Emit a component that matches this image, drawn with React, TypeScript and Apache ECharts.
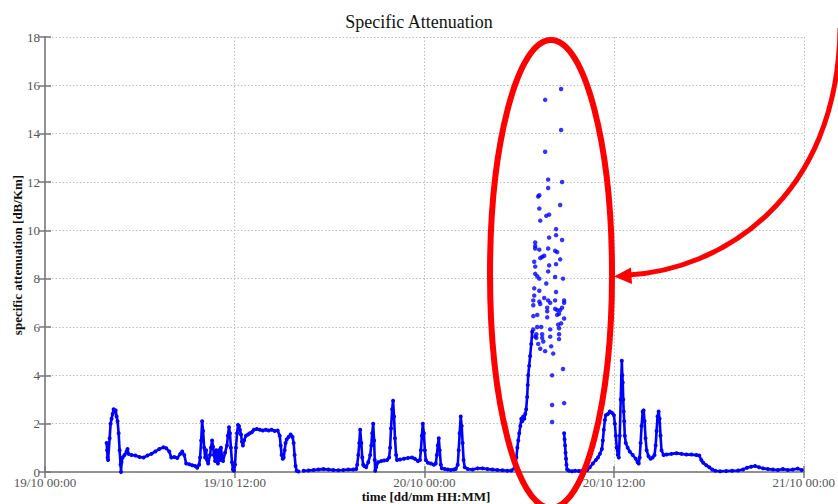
import React, { useEffect, useRef } from "react";
import * as echarts from "echarts";

// Hours elapsed since 19/10 00:00, paired with specific attenuation in dB/Km.
const tickLabels = ["19/10 00:00", "19/10 12:00", "20/10 00:00", "20/10 12:00", "21/10 00:00"];

// Showers during 19/10
const rainDay19: [number, number][] = [
  [3.9, 1.2], [3.93, 0.9], [3.96, 0.6], [3.99, 0.5], [4.09, 1.4], [4.15, 2.0], [4.21, 2.2], [4.28, 2.4],
  [4.34, 2.6], [4.4, 2.5], [4.47, 2.55], [4.53, 2.3], [4.59, 2.1], [4.66, 1.6], [4.72, 0.9], [4.78, 0.3],
  [4.81, 0.0], [4.84, 0.4], [4.91, 0.6], [5.03, 0.7], [5.16, 0.85], [5.22, 0.95], [5.28, 0.75], [5.47, 0.7],
  [5.72, 0.68], [5.98, 0.62], [6.23, 0.6], [6.48, 0.68], [6.73, 0.75], [6.98, 0.85], [7.23, 0.95], [7.49, 1.02],
  [7.67, 0.98], [7.86, 0.85], [7.99, 0.6], [8.18, 0.62], [8.37, 0.58], [8.56, 0.75], [8.68, 0.85], [8.81, 0.7],
  [8.93, 0.35], [9.12, 0.32], [9.31, 0.28], [9.5, 0.25], [9.63, 0.18], [9.75, 0.3], [9.81, 0.6], [9.88, 1.3],
  [9.94, 2.1], [10.0, 1.7], [10.07, 1.0], [10.13, 0.6], [10.19, 0.9], [10.25, 0.5], [10.32, 0.35], [10.44, 0.7],
  [10.5, 1.0], [10.57, 1.3], [10.63, 1.05], [10.69, 0.7], [10.76, 0.45], [10.82, 0.9], [10.88, 0.6], [10.94, 0.35],
  [11.0, 0.9], [11.07, 0.5], [11.13, 1.0], [11.2, 0.6], [11.26, 0.45], [11.39, 0.8], [11.51, 1.1], [11.57, 1.5],
  [11.64, 1.85], [11.7, 1.6], [11.76, 1.0], [11.83, 0.4], [11.89, 0.1], [11.95, 0.05], [12.02, 0.3], [12.08, 1.0],
  [12.15, 1.6], [12.21, 1.95], [12.27, 1.9], [12.33, 1.75], [12.4, 1.55], [12.46, 1.25], [12.52, 1.1], [12.59, 1.3],
  [12.71, 1.5], [12.84, 1.55], [12.96, 1.6], [13.09, 1.65], [13.21, 1.75], [13.4, 1.78], [13.59, 1.75], [13.78, 1.72],
  [13.97, 1.75], [14.15, 1.72], [14.34, 1.75], [14.53, 1.7], [14.72, 1.72], [14.85, 1.5], [14.91, 1.1], [14.97, 0.7],
  [15.04, 0.55], [15.1, 0.6], [15.16, 0.9], [15.22, 1.2], [15.29, 1.35], [15.41, 1.45], [15.54, 1.55], [15.66, 1.45],
  [15.73, 1.2], [15.79, 0.7], [15.85, 0.25], [15.92, 0.05], [16.04, 0.02],
];

// Evening of 19/10 through the early hours of 20/10
const nightShowers: [number, number][] = [
  [16.36, 0.05], [16.67, 0.06], [16.99, 0.08], [17.3, 0.1], [17.61, 0.12], [17.93, 0.1], [18.24, 0.08], [18.56, 0.07],
  [18.87, 0.08], [19.19, 0.1], [19.5, 0.1], [19.69, 0.12], [19.75, 0.3], [19.82, 0.7], [19.88, 1.2], [19.94, 1.75],
  [20.01, 1.2], [20.07, 0.6], [20.13, 0.3], [20.2, 0.25], [20.32, 0.2], [20.45, 0.4], [20.57, 0.7], [20.64, 1.1],
  [20.7, 1.6], [20.76, 2.0], [20.82, 1.3], [20.86, 0.5], [20.89, 0.05], [20.95, 0.2], [21.07, 0.4], [21.26, 0.45],
  [21.45, 0.48], [21.64, 0.5], [21.77, 0.6], [21.83, 1.0], [21.89, 1.8], [21.96, 2.6], [22.02, 2.95], [22.08, 2.3],
  [22.14, 1.4], [22.21, 0.7], [22.27, 0.5], [22.46, 0.52], [22.71, 0.55], [22.96, 0.58], [23.22, 0.6], [23.4, 0.55],
  [23.59, 0.45], [23.72, 0.5], [23.78, 0.9], [23.84, 1.5], [23.9, 2.0], [23.97, 1.6], [24.03, 0.9], [24.09, 0.5],
  [24.22, 0.38], [24.41, 0.35], [24.6, 0.3], [24.72, 0.35], [24.79, 0.7], [24.85, 1.1], [24.91, 1.4], [24.97, 0.9],
  [25.04, 0.3], [25.1, 0.15], [25.29, 0.12], [25.48, 0.1], [25.67, 0.08], [25.86, 0.1], [25.98, 0.12], [26.11, 0.3],
  [26.17, 0.9], [26.23, 1.6], [26.3, 2.3], [26.36, 1.9], [26.42, 1.2], [26.48, 0.5], [26.55, 0.2], [26.74, 0.12],
  [27.05, 0.1], [27.37, 0.15], [27.68, 0.15], [27.99, 0.12], [28.31, 0.1], [28.62, 0.08], [28.94, 0.07], [29.25, 0.05],
  [29.5, 0.06], [29.69, 0.15],
];

// Onset of the heavy rain event on the morning of 20/10
const stormOnset: [number, number][] = [
  [29.76, 0.35], [29.82, 0.6], [29.88, 1.0], [29.94, 1.3], [30.0, 1.6], [30.07, 1.9], [30.13, 2.2], [30.19, 2.1],
  [30.25, 2.3], [30.32, 2.2], [30.38, 2.4], [30.44, 2.6], [30.5, 3.1], [30.54, 3.6], [30.57, 4.0], [30.63, 4.4],
  [30.69, 4.8], [30.76, 5.3], [30.82, 5.8],
];

// Scattered samples at the storm peak
const stormPeak: [number, number][] = [
  [32.65, 15.85], [31.64, 15.4], [32.65, 14.15], [31.64, 13.25], [31.83, 12.1], [32.71, 12.0], [31.83, 11.75],
  [31.27, 11.45], [31.2, 11.4], [31.27, 10.9], [32.59, 11.05], [31.71, 10.6], [31.89, 10.65], [31.33, 10.4],
  [32.33, 10.05], [31.89, 9.7], [32.33, 9.8], [32.71, 9.6], [31.01, 9.5], [31.01, 9.35], [31.01, 9.25], [31.27, 9.2],
  [32.27, 9.15], [32.4, 9.1], [31.83, 9.25], [31.58, 8.95], [31.45, 8.9], [31.33, 8.85], [32.59, 8.8], [30.95, 8.7],
  [31.01, 8.5], [31.89, 8.55], [32.33, 8.6], [31.83, 8.3], [31.01, 8.2], [31.14, 8.1], [31.27, 8.0], [32.27, 8.07],
  [32.77, 8.0], [31.71, 7.8], [30.95, 7.6], [31.27, 7.5], [32.33, 7.45], [30.95, 7.3], [30.89, 7.1], [30.89, 6.9],
  [31.27, 7.05], [31.33, 6.95], [31.58, 7.2], [31.83, 7.1], [31.96, 7.0], [32.27, 7.1], [32.84, 7.1], [31.77, 6.8],
  [31.77, 6.65], [32.27, 6.75], [32.4, 6.7], [32.52, 6.55], [32.59, 6.7], [32.71, 6.8], [32.84, 7.0], [31.14, 6.5],
  [30.89, 6.45], [31.77, 6.4], [32.4, 6.5], [32.84, 6.35], [32.46, 6.1], [32.65, 6.15], [30.89, 5.9], [31.14, 6.0],
  [31.39, 6.0], [31.96, 5.9], [32.52, 5.95], [31.08, 5.7], [31.08, 5.55], [31.45, 5.7], [31.45, 5.55], [32.52, 5.7],
  [32.52, 5.5], [31.01, 5.6], [31.2, 5.3], [31.33, 5.1], [31.52, 5.4], [31.64, 5.0], [31.96, 5.6], [32.02, 5.2],
  [32.15, 4.9], [32.08, 4.0], [32.08, 2.77], [32.08, 2.07], [32.77, 4.26], [32.84, 2.85],
];

// Tail of the storm and the rest of 20/10
const afterStorm: [number, number][] = [
  [32.84, 1.6], [32.87, 1.35], [32.9, 1.1], [32.93, 0.8], [32.96, 0.55], [32.99, 0.3], [33.03, 0.1], [33.15, 0.05],
  [33.34, 0.03], [33.53, 0.05], [33.78, 0.04], [34.03, 0.06], [34.29, 0.08], [34.47, 0.2], [34.66, 0.35], [34.85, 0.5],
  [34.98, 0.6], [35.1, 0.75], [35.23, 0.95], [35.29, 1.3], [35.35, 1.75], [35.42, 2.15], [35.48, 2.35], [35.61, 2.4],
  [35.73, 2.5], [35.86, 2.45], [35.99, 2.35], [36.05, 2.0], [36.11, 1.5], [36.17, 1.0], [36.24, 0.7], [36.3, 0.6],
  [36.36, 1.5], [36.42, 3.0], [36.49, 4.6], [36.52, 4.0], [36.55, 3.7], [36.58, 3.0], [36.61, 2.5], [36.64, 2.1],
  [36.68, 1.5], [36.74, 1.2], [36.86, 1.0], [36.99, 0.85], [37.18, 0.7], [37.37, 0.55], [37.49, 0.4], [37.56, 0.35],
  [37.62, 0.6], [37.68, 1.2], [37.74, 1.9], [37.81, 2.5], [37.87, 2.55], [37.93, 2.1], [37.99, 1.4], [38.06, 0.9],
  [38.18, 0.65], [38.31, 0.55], [38.44, 0.6], [38.56, 0.7], [38.63, 1.1], [38.69, 1.7], [38.75, 2.3], [38.82, 2.5],
  [38.88, 2.2], [38.94, 1.5], [39.0, 0.9], [39.13, 0.7], [39.32, 0.72], [39.63, 0.75], [39.95, 0.78], [40.26, 0.75],
  [40.58, 0.72], [40.89, 0.72], [41.21, 0.7], [41.39, 0.68], [41.52, 0.5], [41.64, 0.38], [41.83, 0.28], [42.02, 0.2],
  [42.21, 0.1], [42.4, 0.05], [42.71, 0.03], [43.09, 0.04], [43.47, 0.05], [43.85, 0.06], [44.16, 0.1], [44.41, 0.18],
  [44.67, 0.22], [44.92, 0.25], [45.17, 0.2], [45.42, 0.15], [45.73, 0.12], [46.05, 0.1], [46.36, 0.08], [46.68, 0.12],
  [46.99, 0.08], [47.31, 0.1], [47.62, 0.14], [47.87, 0.08],
];

const BLUE = "#0000ff";
const SERIF = "'Liberation Serif', 'Times New Roman', serif";

const traceSeries = (data: [number, number][]) => ({
  type: "line",
  data,
  showSymbol: true,
  showAllSymbol: true,
  symbol: "circle",
  symbolSize: 4,
  lineStyle: { color: BLUE, width: 2.6 },
  itemStyle: { color: BLUE },
  z: 3,
});

export default function App() {
  const ref = useRef<HTMLDivElement>(null);

  useEffect(() => {
    if (!ref.current) return;
    const chart = echarts.init(ref.current, null, { renderer: "svg" });

    const frameAxis = {
      min: 0,
      axisLine: { show: true, lineStyle: { color: "#8c8c8c", width: 1.5 } },
      axisTick: { show: true, inside: true, length: 6, lineStyle: { color: "#777", width: 1.5 } },
      axisLabel: { show: false },
      splitLine: { show: false },
    };

    chart.setOption({
      animation: false,
      backgroundColor: "#ffffff",
      textStyle: { fontFamily: SERIF },
      title: {
        text: "Specific Attenuation",
        left: "center",
        top: 8,
        textStyle: { fontFamily: SERIF, fontSize: 18, fontWeight: "normal", color: "#111" },
      },
      grid: { left: 45, right: 30, top: 37, bottom: 32, containLabel: false },
      xAxis: [
        {
          type: "value",
          position: "bottom",
          min: 0,
          max: 48,
          interval: 12,
          axisLine: { show: true, onZero: false, lineStyle: { color: "#8c8c8c", width: 1.5 } },
          axisTick: { show: true, inside: true, length: 6, lineStyle: { color: "#777", width: 1.5 } },
          axisLabel: {
            margin: 4,
            color: "#555",
            fontFamily: SERIF,
            fontSize: 13,
            formatter: (v: number) => tickLabels[Math.round(v / 12)] ?? "",
          },
          splitLine: { show: true, lineStyle: { color: "#bdbdbd", type: [1.5, 2], width: 1 } },
        },
        { ...frameAxis, type: "value", position: "top", max: 48, interval: 12 },
      ],
      yAxis: [
        {
          type: "value",
          position: "left",
          min: 0,
          max: 18,
          interval: 2,
          axisLine: { show: true, lineStyle: { color: "#8c8c8c", width: 1.5 } },
          axisTick: { show: true, inside: true, length: 6, lineStyle: { color: "#777", width: 1.5 } },
          axisLabel: { margin: 5, color: "#555", fontFamily: SERIF, fontSize: 13 },
          splitLine: { show: true, lineStyle: { color: "#bdbdbd", type: [1.5, 2], width: 1 } },
        },
        { ...frameAxis, type: "value", position: "right", max: 18, interval: 2 },
      ],
      series: [
        traceSeries(rainDay19),
        traceSeries(nightShowers.concat(stormOnset)),
        {
          type: "scatter",
          data: stormPeak,
          symbol: "circle",
          symbolSize: 4.5,
          itemStyle: { color: BLUE },
          z: 3,
        },
        traceSeries(afterStorm),
      ],
      graphic: [
        {
          type: "text",
          x: 17,
          y: 255,
          rotation: Math.PI / 2,
          style: {
            text: "specific attenuation [dB/Km]",
            font: `bold 13px ${SERIF}`,
            fill: "#111",
            textAlign: "center",
            textVerticalAlign: "middle",
          },
        },
        {
          type: "text",
          x: 426,
          y: 496,
          style: {
            text: "time [dd/mm HH:MM]",
            font: `bold 13px ${SERIF}`,
            fill: "#111",
            textAlign: "center",
            textVerticalAlign: "middle",
          },
        },
        {
          type: "ellipse",
          shape: { cx: 551, cy: 274, rx: 61, ry: 234 },
          style: { fill: "none", stroke: "#ff0000", lineWidth: 6 },
          z: 10,
        },
        {
          type: "bezierCurve",
          shape: { x1: 840, y1: 28, cpx1: 838, cpy1: 200, cpx2: 720, cpy2: 270, x2: 628, y2: 275 },
          style: { fill: "none", stroke: "#ff0000", lineWidth: 5 },
          z: 10,
        },
        {
          type: "polygon",
          shape: { points: [[614, 276.5], [631, 267.5], [632, 284]] },
          style: { fill: "#ff0000" },
          z: 10,
        },
      ],
    });

    return () => chart.dispose();
  }, []);

  return (
    <div
      ref={ref}
      style={{ position: "absolute", left: 0, top: 0, width: 838, height: 504, background: "#fff" }}
    />
  );
}
